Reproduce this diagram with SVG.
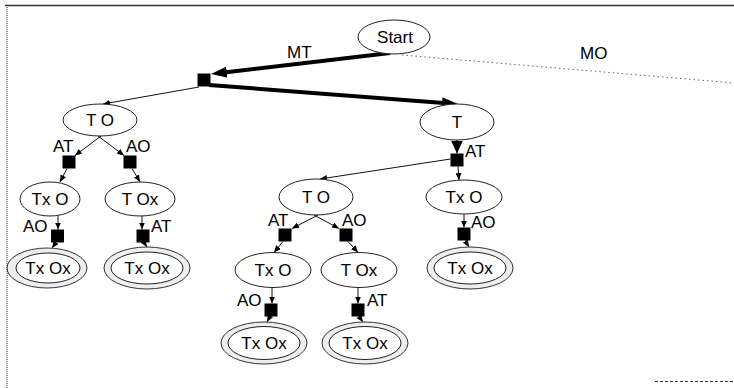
<svg xmlns="http://www.w3.org/2000/svg" width="734" height="388" viewBox="0 0 734 388">
  <style>
    .node ellipse { fill: #fff; stroke: #222; stroke-width: 1; }
    .node ellipse.ring { fill: #eeeeee; stroke: #333; }
    .sq { fill: #000; stroke: none; }
    text { font-family: "Liberation Sans", Arial, sans-serif; font-size: 17px; fill: #000; }
    .nt { text-anchor: middle; }
    .edge { stroke: #111; stroke-width: 1; fill: none; marker-end: url(#tip); }
    .bold { stroke: #000; stroke-width: 4; fill: none; marker-end: url(#bigtip); }
    .frame { stroke: #333; fill: none; }
  </style>
  <defs>
    <marker id="tip" markerUnits="userSpaceOnUse" markerWidth="7" markerHeight="6" refX="7" refY="3" orient="auto">
      <path d="M0,0 L7,3 L0,6 z" fill="#000"/>
    </marker>
    <marker id="bigtip" markerUnits="userSpaceOnUse" markerWidth="16" markerHeight="11" refX="5" refY="5.5" orient="auto">
      <path d="M0,0 L16,5.5 L0,11 z" fill="#000"/>
    </marker>
    <marker id="wedge" markerUnits="userSpaceOnUse" markerWidth="13" markerHeight="12" refX="13" refY="6" orient="auto">
      <path d="M0,0 L13,6 L0,12 z" fill="#000"/>
    </marker>
  </defs>

  <!-- page frame -->
  <line class="frame" x1="5" y1="5.5" x2="734" y2="5.5" stroke-width="1.5"/>
  <line class="frame" x1="7" y1="5" x2="7" y2="388" stroke="#555" stroke-dasharray="1 1"/>
  <line class="frame" x1="655" y1="381.5" x2="734" y2="381.5" stroke="#999" stroke-dasharray="3 2"/>

  <!-- connectors -->
  <g id="edges">
    <line class="bold" x1="390" y1="53" x2="221.9" y2="72.8"/>
    <line class="bold" x1="209" y1="85" x2="447" y2="103.2"/>
    <line x1="402" y1="55" x2="734" y2="83" stroke="#666" stroke-width="1" stroke-dasharray="1.5 3"/>

    <line class="edge" x1="199" y1="87" x2="103" y2="104"/>
    <line class="edge" x1="101" y1="136" x2="75" y2="155.5"/>
    <line class="edge" x1="98" y1="136" x2="124" y2="155.5"/>
    <line class="edge" x1="67" y1="168.5" x2="60" y2="182"/>
    <line class="edge" x1="132" y1="168.5" x2="140" y2="182"/>
    <line class="edge" x1="58" y1="216" x2="58" y2="229.5"/>
    <line class="edge" x1="56" y1="242.5" x2="52" y2="248"/>
    <line class="edge" x1="142" y1="216" x2="142" y2="229.5"/>
    <line class="edge" x1="144" y1="242.5" x2="147" y2="247"/>

    <line x1="457" y1="140" x2="457" y2="153.5" stroke="#000" stroke-width="1" marker-end="url(#wedge)"/>
    <line class="edge" x1="450.5" y1="159" x2="320" y2="179"/>
    <line class="edge" x1="458" y1="166.5" x2="459" y2="180"/>

    <line class="edge" x1="318" y1="215" x2="292" y2="228.5"/>
    <line class="edge" x1="314" y1="215" x2="339" y2="228.5"/>
    <line class="edge" x1="283" y1="241.5" x2="274" y2="252.5"/>
    <line class="edge" x1="348" y1="241.5" x2="358" y2="252.5"/>
    <line class="edge" x1="272" y1="287.5" x2="272" y2="303.5"/>
    <line class="edge" x1="270" y1="316.5" x2="267" y2="322"/>
    <line class="edge" x1="358" y1="287.5" x2="358" y2="303.5"/>
    <line class="edge" x1="359" y1="316.5" x2="363" y2="322"/>

    <line class="edge" x1="464" y1="214" x2="464" y2="227.5"/>
    <line class="edge" x1="465" y1="240.5" x2="469" y2="247"/>

    <text x="287" y="58">MT</text>
    <text x="580" y="59">MO</text>
    <text x="53" y="152">AT</text>
    <text x="126" y="152">AO</text>
    <text x="23" y="232">AO</text>
    <text x="151" y="232">AT</text>
    <text x="465" y="157">AT</text>
    <text x="268" y="226">AT</text>
    <text x="342" y="226">AO</text>
    <text x="237" y="306">AO</text>
    <text x="367" y="306">AT</text>
    <text x="471" y="228">AO</text>
  </g>

  <!-- states -->
  <g id="start" class="node"><ellipse cx="394" cy="37" rx="36" ry="17"/><text class="nt" x="395" y="43">Start</text></g>
  <g id="choice-root" class="node"><rect class="sq" x="197.5" y="73.5" width="13" height="13"/></g>

  <g id="to-left" class="node"><ellipse cx="100" cy="120" rx="37" ry="16"/><text class="nt" x="100" y="126">T O</text></g>
  <g id="choice-left-at" class="node"><rect class="sq" x="62.5" y="155.5" width="13" height="13"/></g>
  <g id="choice-left-ao" class="node"><rect class="sq" x="123.5" y="155.5" width="13" height="13"/></g>
  <g id="txo-left" class="node"><ellipse cx="50" cy="199" rx="30" ry="17"/><text class="nt" x="50" y="205">Tx O</text></g>
  <g id="tox-left" class="node"><ellipse cx="140" cy="199" rx="35" ry="17"/><text class="nt" x="140" y="205">T Ox</text></g>
  <g id="choice-left-ao2" class="node"><rect class="sq" x="51" y="229.5" width="13" height="13"/></g>
  <g id="choice-left-at2" class="node"><rect class="sq" x="136.5" y="229.5" width="13" height="13"/></g>
  <g id="goal-left-1" class="node"><ellipse class="ring" cx="47" cy="268" rx="40" ry="20"/><ellipse cx="48" cy="268" rx="32" ry="15"/><text class="nt" x="48" y="274">Tx Ox</text></g>
  <g id="goal-left-2" class="node"><ellipse class="ring" cx="147" cy="268" rx="43" ry="21"/><ellipse cx="147" cy="268" rx="36" ry="16"/><text class="nt" x="147" y="274">Tx Ox</text></g>

  <g id="t" class="node"><ellipse cx="457" cy="122" rx="37" ry="18"/><text class="nt" x="457" y="128">T</text></g>
  <g id="choice-t-at" class="node"><rect class="sq" x="450.5" y="153.5" width="13" height="13"/></g>
  <g id="to-mid" class="node"><ellipse cx="316" cy="197" rx="37" ry="18"/><text class="nt" x="316" y="203">T O</text></g>
  <g id="txo-right" class="node"><ellipse cx="464" cy="197" rx="38" ry="17"/><text class="nt" x="464" y="203">Tx O</text></g>
  <g id="choice-mid-at" class="node"><rect class="sq" x="278.5" y="228.5" width="13" height="13"/></g>
  <g id="choice-mid-ao" class="node"><rect class="sq" x="339.5" y="228.5" width="13" height="13"/></g>
  <g id="choice-right-ao" class="node"><rect class="sq" x="457.5" y="227.5" width="13" height="13"/></g>
  <g id="txo-mid" class="node"><ellipse cx="273" cy="270" rx="38" ry="17.5"/><text class="nt" x="273" y="276">Tx O</text></g>
  <g id="tox-mid" class="node"><ellipse cx="359" cy="270" rx="38" ry="17.5"/><text class="nt" x="359" y="276">T Ox</text></g>
  <g id="goal-right" class="node"><ellipse class="ring" cx="470" cy="268" rx="43" ry="21"/><ellipse cx="470" cy="268" rx="36" ry="16"/><text class="nt" x="470" y="274">Tx Ox</text></g>
  <g id="choice-mid-ao2" class="node"><rect class="sq" x="264.5" y="303.5" width="13" height="13"/></g>
  <g id="choice-mid-at2" class="node"><rect class="sq" x="351.5" y="303.5" width="13" height="13"/></g>
  <g id="goal-mid-1" class="node"><ellipse class="ring" cx="264" cy="343" rx="43" ry="21"/><ellipse cx="264" cy="343" rx="36" ry="16.5"/><text class="nt" x="264" y="349">Tx Ox</text></g>
  <g id="goal-mid-2" class="node"><ellipse class="ring" cx="365" cy="343" rx="43" ry="21"/><ellipse cx="365" cy="343" rx="36" ry="16.5"/><text class="nt" x="365" y="349">Tx Ox</text></g>
</svg>
